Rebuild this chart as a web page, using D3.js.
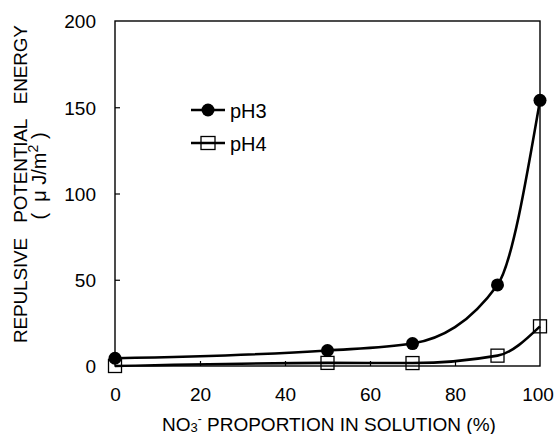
<!DOCTYPE html>
<html>
<head>
<meta charset="utf-8">
<script src="https://cdn.jsdelivr.net/npm/d3@7"></script>
<style>
  body { margin: 0; background: #fff; }
  svg { font-family: "Liberation Sans", Arial, sans-serif; }
</style>
</head>
<body>
<div id="chart"></div>
<script>
// Data
const proportion = [0, 50, 70, 90, 100];
const pH3 = [4.5, 9, 13, 47, 154];
const pH4 = [0, 1.8, 1.7, 6, 23];
const xTicks = [0, 20, 40, 60, 80, 100];
const yTicks = [0, 50, 100, 150, 200];

const width = 554;
const height = 434;
const margin = { left: 115, right: 14, top: 21, bottom: 68 };

const svg = d3.select("#chart")
    .append("svg")
    .attr("width", width)
    .attr("height", height);

const x = d3.scaleLinear().domain([0, 100]).range([margin.left, width - margin.right]);
const y = d3.scaleLinear().domain([0, 200]).range([height - margin.bottom, margin.top]);

// Frame
svg.append("rect")
    .attr("x", x(0))
    .attr("y", y(200))
    .attr("width", x(100) - x(0))
    .attr("height", y(0) - y(200))
    .attr("fill", "none")
    .attr("stroke", "#000")
    .attr("stroke-width", 1.4);

// Axes with inward ticks
const xAxis = svg.append("g")
    .attr("transform", `translate(0,${y(0)})`)
    .call(d3.axisBottom(x).tickValues(xTicks).tickSizeInner(-5).tickSizeOuter(0).tickPadding(22));
const yAxis = svg.append("g")
    .attr("transform", `translate(${x(0)},0)`)
    .call(d3.axisLeft(y).tickValues(yTicks).tickSizeInner(-5).tickSizeOuter(0).tickPadding(19));

[xAxis, yAxis].forEach(g => {
    g.select(".domain").remove();
    g.selectAll(".tick line").attr("stroke", "#000").attr("stroke-width", 1.2);
    g.selectAll(".tick text")
        .attr("fill", "#000")
        .style("font-size", "19px")
        .style("font-family", "'Liberation Sans', Arial, sans-serif");
});
// hide ticks at the corners
xAxis.selectAll(".tick line").filter(d => d === 0 || d === 100).remove();
yAxis.selectAll(".tick line").filter(d => d === 0 || d === 200).remove();
yAxis.selectAll(".tick text").attr("dy", "0.36em");
// keep the last label inside the window
xAxis.selectAll(".tick text").filter(d => d === 100).attr("dx", -2.5);

// Axis titles
const xTitle = svg.append("text")
    .attr("x", 162)
    .attr("y", 431)
    .style("font-size", "19px")
    .attr("fill", "#000");
xTitle.append("tspan").text("NO");
xTitle.append("tspan").attr("dy", 1).style("font-size", "13px").text("3");
xTitle.append("tspan").attr("dy", -9).style("font-size", "12px").text("-");
xTitle.append("tspan").attr("dy", 8).text(" PROPORTION IN SOLUTION (%)");

svg.append("text")
    .attr("transform", "translate(27,184) rotate(-90)")
    .attr("text-anchor", "middle")
    .style("font-size", "19px")
    .style("white-space", "pre")
    .attr("fill", "#000")
    .attr("textLength", 318)
    .attr("lengthAdjust", "spacing")
    .text("REPULSIVE   POTENTIAL   ENERGY");

const unit = svg.append("text")
    .attr("transform", "translate(46,176) rotate(-90)")
    .attr("text-anchor", "middle")
    .style("font-size", "20px")
    .style("white-space", "pre")
    .attr("fill", "#000");
unit.append("tspan").text("(  \u03bc J/m");
unit.append("tspan").attr("dy", -8).style("font-size", "14px").text("2");
unit.append("tspan").attr("dy", 8).text(" )");

// Curves
const line = d3.line()
    .x(d => x(d[0]))
    .y(d => y(d[1]))
    .curve(d3.curveMonotoneX);

const series = [
    { name: "pH3", values: pH3, marker: "circle" },
    { name: "pH4", values: pH4, marker: "square" }
];

series.forEach(s => {
    const pts = proportion.map((p, i) => [p, s.values[i]]);
    svg.append("path")
        .attr("d", line(pts))
        .attr("fill", "none")
        .attr("stroke", "#000")
        .attr("stroke-width", 2.6);

    if (s.marker === "circle") {
        svg.selectAll(null)
            .data(pts)
            .join("circle")
            .attr("cx", d => x(d[0]))
            .attr("cy", d => y(d[1]))
            .attr("r", 6.5)
            .attr("fill", "#000");
    } else {
        svg.selectAll(null)
            .data(pts)
            .join("rect")
            .attr("x", d => x(d[0]) - 6.5)
            .attr("y", d => y(d[1]) - 6.5)
            .attr("width", 13)
            .attr("height", 13)
            .attr("fill", "none")
            .attr("stroke", "#000")
            .attr("stroke-width", 1.3);
    }
});

// Legend
const legend = svg.append("g");
series.forEach((s, i) => {
    const cy = 110 + i * 33;
    legend.append("line")
        .attr("x1", 191).attr("x2", 225)
        .attr("y1", cy).attr("y2", cy)
        .attr("stroke", "#000")
        .attr("stroke-width", 2.4);
    if (s.marker === "circle") {
        legend.append("circle")
            .attr("cx", 208).attr("cy", cy).attr("r", 6.5)
            .attr("fill", "#000");
    } else {
        legend.append("rect")
            .attr("x", 201).attr("y", cy - 6.5)
            .attr("width", 14).attr("height", 13)
            .attr("fill", "none")
            .attr("stroke", "#000")
            .attr("stroke-width", 1.3);
    }
    legend.append("text")
        .attr("x", 230)
        .attr("y", cy + 8)
        .style("font-size", "20px")
        .attr("fill", "#000")
        .text(s.name);
});
</script>
</body>
</html>
